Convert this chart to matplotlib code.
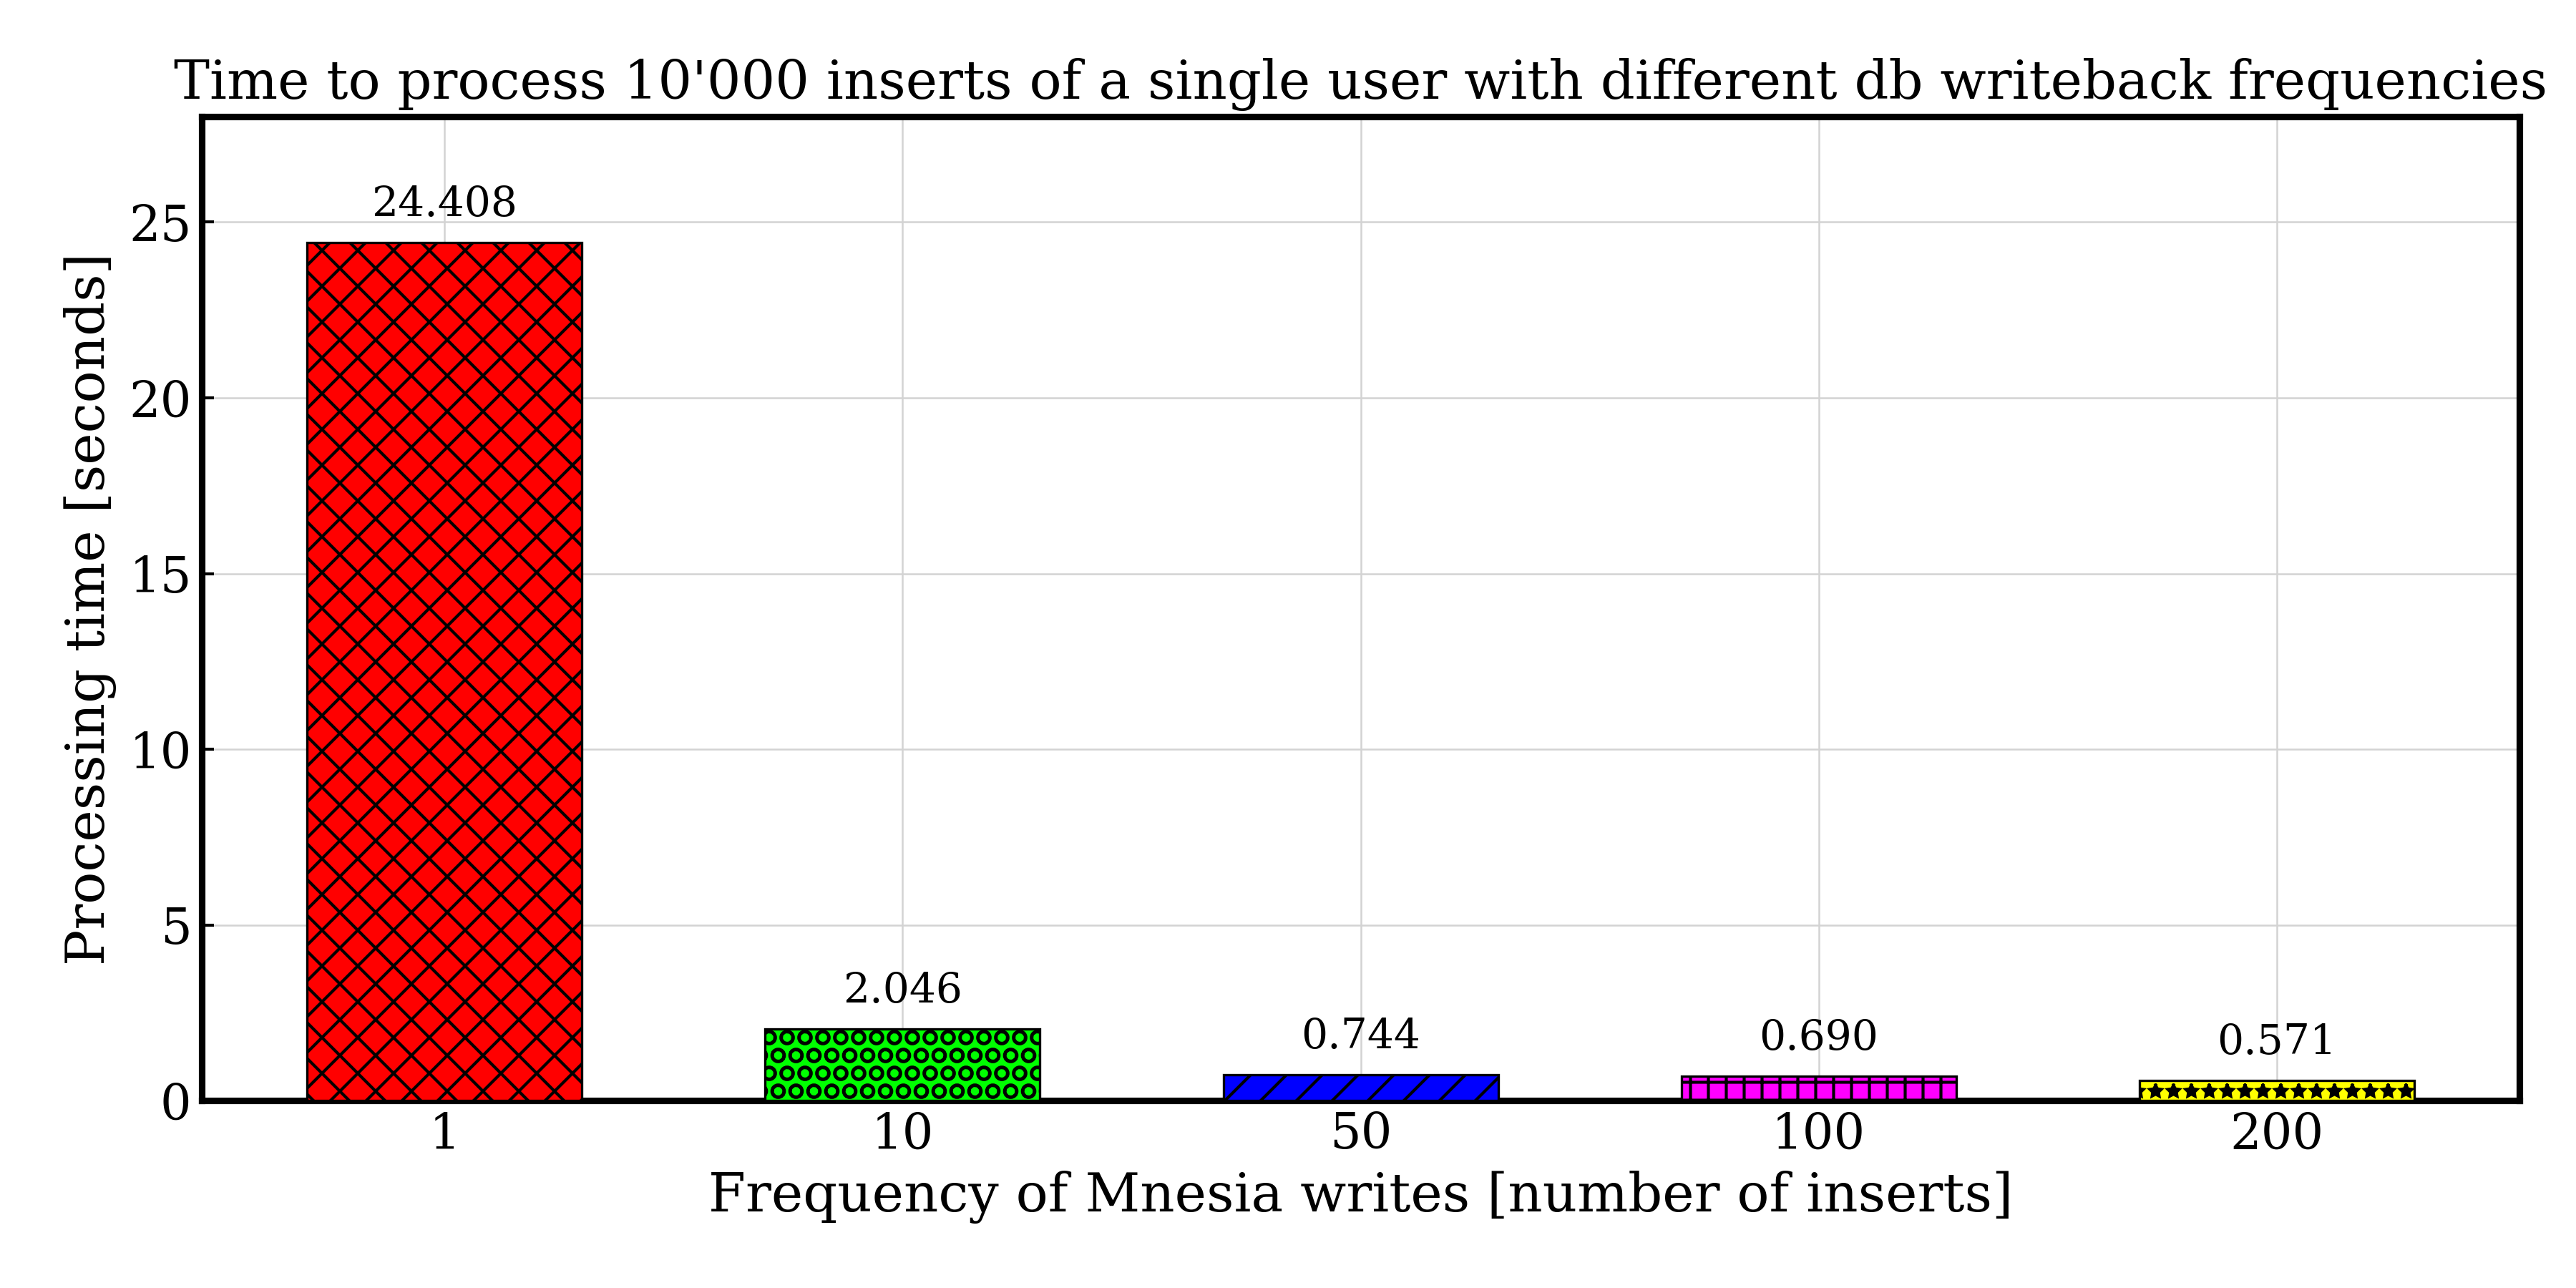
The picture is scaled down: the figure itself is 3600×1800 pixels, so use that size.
import matplotlib
matplotlib.use('Agg')
from matplotlib import pyplot as plt
import numpy as np

frequencies = ['1', '10', '50', '100', '200']
times = [24.408, 2.046, 0.744, 0.690, 0.571]
colors = ['#ff0000', '#00ff00', '#0000ff', '#ff00ff', '#ffff00']
hatches = ['xx', 'OO', '//', '++', '**']

plt.rcParams['font.family'] = 'DejaVu Serif'
plt.rcParams['hatch.linewidth'] = 1.0

fig, ax = plt.subplots(figsize=(12, 6), dpi=300)
x = np.arange(len(frequencies))
bars = ax.bar(x, times, width=0.6, color=colors, edgecolor='black', linewidth=0.8, zorder=3)
for b, h in zip(bars, hatches):
    b.set_hatch(h)

for b, v in zip(bars, times):
    ax.annotate('%.3f' % v, (b.get_x() + b.get_width() / 2, v), xytext=(0, 6),
                textcoords='offset points', ha='center', va='bottom', fontsize=14)

ax.set_xticks(x)
ax.set_xticklabels(frequencies)
ax.set_ylim(0, 28)
ax.set_xlabel('Frequency of Mnesia writes [number of inserts]', fontsize=18)
ax.set_ylabel('Processing time [seconds]', fontsize=18)
ax.set_title("Time to process 10'000 inserts of a single user with different db writeback frequencies", fontsize=18)
ax.tick_params(direction='in', labelsize=16.5, length=4, width=1)
ax.grid(True, color='#d3d3d3', linewidth=0.6, zorder=0)
for s in ax.spines.values():
    s.set_linewidth(2.2)

plt.subplots_adjust(left=0.0784, right=0.978, top=0.9094, bottom=0.1454)
plt.savefig('out.png')
